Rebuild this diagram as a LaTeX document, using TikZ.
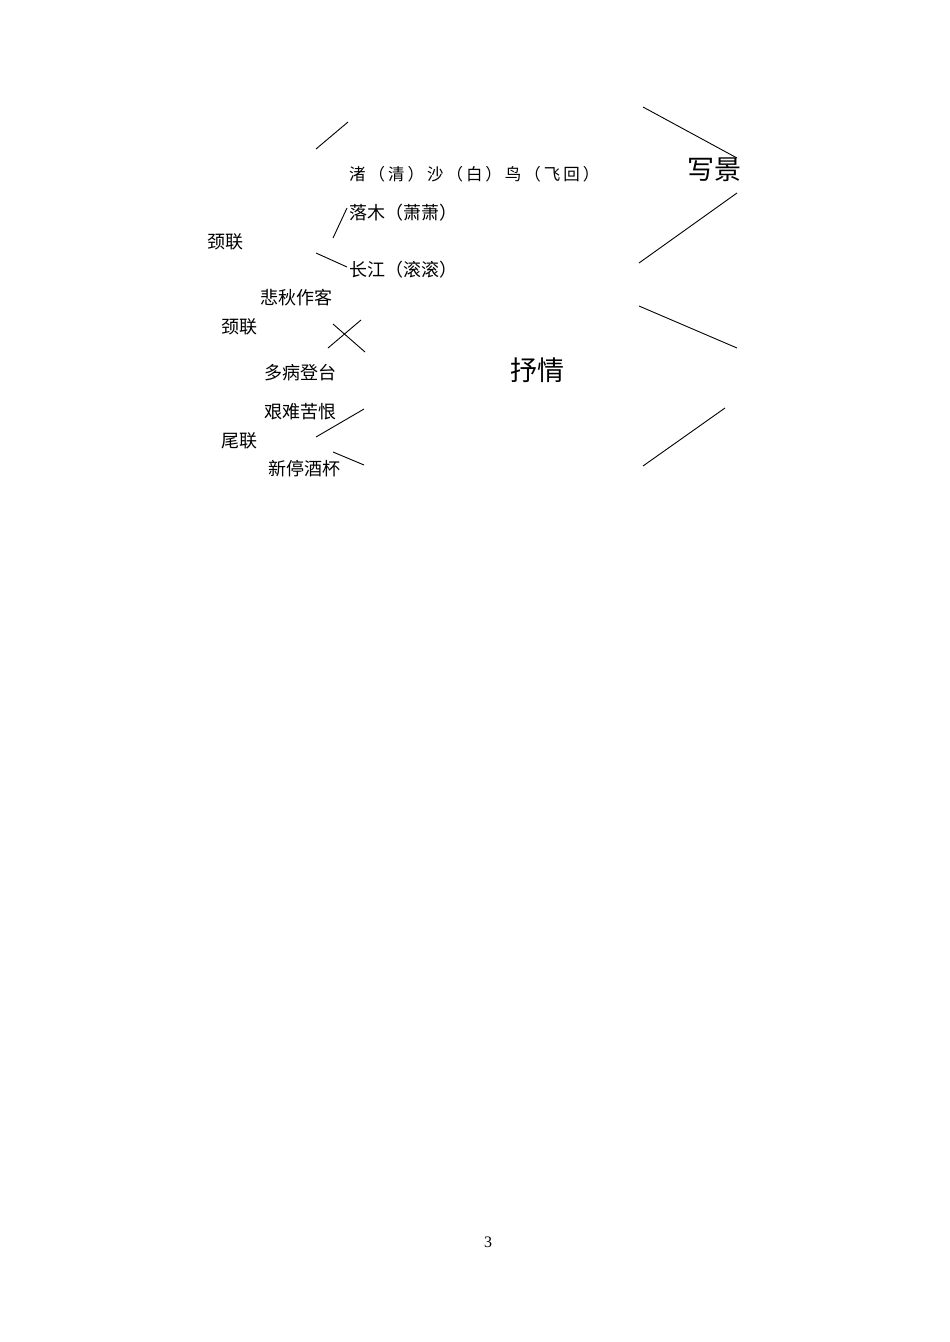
\documentclass[tikz,border=0pt]{standalone}
\usepackage{fontspec}
\setmainfont{Liberation Serif}
\newfontfamily\cjk{Noto Sans CJK SC}
\newfontfamily\cjkwide[LetterSpace=18]{Noto Sans CJK SC}
\begin{document}
\begin{tikzpicture}[x=1pt,y=-1pt,
  lbl/.style={inner sep=0pt,anchor=west,font=\cjk\fontsize{18}{18}\selectfont},
  big/.style={inner sep=0pt,anchor=west,font=\cjk\fontsize{27}{27}\selectfont},
  ln/.style={line width=0.9pt,black}]
\useasboundingbox[fill=white] (0,0) rectangle (950,1342);
% texts
\node[inner sep=0pt,anchor=west,font=\cjkwide\fontsize{16.5}{16.5}\selectfont] (t1) at (349,174) {渚（清）沙（白）鸟（飞回）};
\node[lbl] (t2) at (349,213) {落木（萧萧）};
\node[lbl] (t3) at (207,242) {颈联};
\node[lbl] (t4) at (349,270) {长江（滚滚）};
\node[lbl] (t5) at (260,298) {悲秋作客};
\node[lbl] (t6) at (221,327) {颈联};
\node[lbl] (t7) at (264,373) {多病登台};
\node[lbl] (t8) at (264,412) {艰难苦恨};
\node[lbl] (t9) at (221,441) {尾联};
\node[lbl] (t10) at (268,469) {新停酒杯};
\node[big] (xj) at (687,170) {写景};
\node[big] (sq) at (510,370) {抒情};
\node[inner sep=0pt,font=\fontsize{16}{16}\selectfont] (pg) at (488,1242) {3};
% line end points
\coordinate (a1) at (316,149); \coordinate (a2) at (348,122);
\coordinate (b1) at (333,238); \coordinate (b2) at (347,208);
\coordinate (c1) at (316,253); \coordinate (c2) at (347,267);
\coordinate (d1) at (328,348); \coordinate (d2) at (361,320);
\coordinate (e1) at (333,324); \coordinate (e2) at (365,352);
\coordinate (f1) at (316,437); \coordinate (f2) at (364,409);
\coordinate (g1) at (333,452); \coordinate (g2) at (364,465);
\coordinate (h1) at (643,107); \coordinate (h2) at (737,158);
\coordinate (i1) at (737,193); \coordinate (i2) at (639,263);
\coordinate (j1) at (639,306); \coordinate (j2) at (737,348);
\coordinate (k1) at (725,408); \coordinate (k2) at (643,466);
\draw[ln] (a1) -- (a2);
\draw[ln] (b1) -- (b2);
\draw[ln] (c1) -- (c2);
\draw[ln] (d1) -- (d2);
\draw[ln] (e1) -- (e2);
\draw[ln] (f1) -- (f2);
\draw[ln] (g1) -- (g2);
\draw[ln] (h1) -- (h2);
\draw[ln] (i1) -- (i2);
\draw[ln] (j1) -- (j2);
\draw[ln] (k1) -- (k2);
\end{tikzpicture}
\end{document}
